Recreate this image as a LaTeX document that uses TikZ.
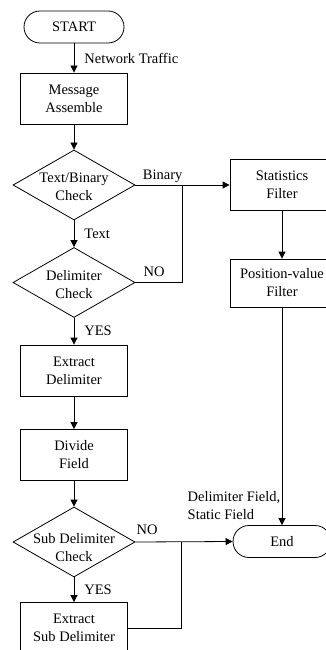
\documentclass[tikz,border=0pt]{standalone}
\usepackage{fontspec}
\setmainfont{Liberation Serif}
\usetikzlibrary{shapes.geometric, arrows.meta, positioning}

\begin{document}
\begin{tikzpicture}[
    x=1pt, y=-1pt,
    line width=0.8pt,
    font=\fontsize{14.5}{18}\selectfont,
    every node/.style={align=center},
    process/.style={rectangle, draw, minimum width=107pt, minimum height=51pt, inner sep=1pt},
    decision/.style={diamond, draw, minimum width=122pt, minimum height=70pt, inner sep=0pt},
    terminal/.style={rectangle, draw, rounded corners=16pt, minimum height=32pt, inner sep=1pt},
    flow/.style={-{Triangle[length=7pt, width=7pt]}},
    lbl/.style={inner sep=2pt}
]

    \useasboundingbox (0,0) rectangle (326,650);

    % --- MAIN COLUMN ---
    \node[terminal, minimum width=100pt] (start) at (74,27) {START};
    \node[process] (msg) at (74,98.5) {Message\\Assemble};
    \node[decision] (tbc) at (74,185) {};
    \node (tbctxt) at ([yshift=-2pt]tbc.center) {Text/Binary\\Check};
    \node[decision] (dc) at (74,282.5) {};
    \node (dctxt) at ([yshift=-2.5pt]dc.center) {Delimiter\\Check};
    \node[process] (extd) at (74,370.5) {Extract\\Delimiter};
    \node[process] (div) at (74,455) {Divide\\Field};
    \node[decision] (sdc) at (74,542) {};
    \node (sdctxt) at ([yshift=-6pt]sdc.center) {Sub Delimiter\\Check};
    \node[process] (exsd) at (74,628) {Extract\\Sub Delimiter};

    % --- RIGHT COLUMN ---
    \node[process, minimum width=104pt] (stat) at (282,185) {Statistics\\Filter};
    \node[process, minimum width=104pt, minimum height=48pt] (pos) at (282,283) {Position-value\\Filter};
    \node[terminal, minimum width=98pt] (endn) at (282,541.5) {End};

    % Junctions of the merging lines
    \coordinate (jbin) at (182,185);
    \coordinate (jend) at (181,541.5);

    % Main flow
    \draw[flow] (start) -- node[lbl, right, xshift=8pt] (lbltraffic) {Network Traffic} (msg);
    \draw[flow] (msg) -- (tbc);
    \draw[flow] (tbc) -- node[lbl, right, xshift=8pt] (lbltext) {Text} (dc);
    \draw[flow] (dc) -- node[lbl, right, xshift=8pt] (lblyes) {YES} (extd);
    \draw[flow] (extd) -- (div);
    \draw[flow] (div) -- (sdc);
    \draw[flow] (sdc) -- node[lbl, right, xshift=8pt] (lblyessub) {YES} (exsd);

    % Branches to the right
    \draw[flow] (tbc.east) -- node[lbl, above, pos=0.29] (lblbinary) {Binary} (stat.west);
    \draw (dc.east) -- node[lbl, above, pos=0.4, yshift=3pt] (lblno) {NO} (jbin |- dc.east) -- (jbin);
    \draw[flow] (stat) -- (pos);
    \draw[flow] (pos) -- (endn);
    \draw[flow] (sdc.east) -- node[lbl, above, pos=0.12, yshift=5pt] (lblnosub) {NO} (endn.west);
    \draw (exsd.east) -- (jend |- exsd.east) -- (jend);

    \node[lbl, align=left] (lblfield) at (234,506) {Delimiter Field,\\Static Field};

\end{tikzpicture}
\end{document}
